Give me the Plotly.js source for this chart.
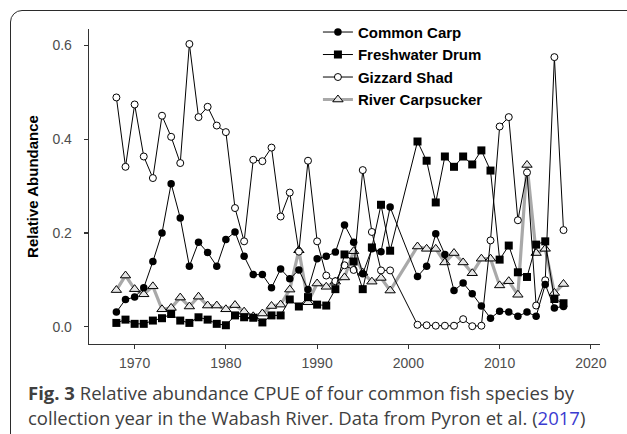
<!DOCTYPE html>
<html>
<head>
<meta charset="utf-8">
<script src="https://cdn.plot.ly/plotly-3.0.1.min.js"></script>
<style>
  html, body { margin: 0; padding: 0; background: #ffffff; }
  #wrap { position: relative; width: 627px; height: 434px; overflow: hidden; }
  #chart { position: absolute; left: 0; top: 0; width: 627px; height: 434px; }
  #frame { position: absolute; left: 10px; top: 10px; width: 640px; height: 460px;
           border: 1.6px solid #2b2b2b; border-radius: 12px; pointer-events: none; }
</style>
</head>
<body>
<div id="wrap">
  <div id="chart"></div>
  <div id="frame"></div>
</div>
<script>
// ---- data ----
const years = [1968,1969,1970,1971,1972,1973,1974,1975,1976,1977,1978,1979,1980,1981,1982,1983,1984,1985,1986,1987,1988,1989,1990,1991,1992,1993,1994,1995,1996,1997,1998,2001,2002,2003,2004,2005,2006,2007,2008,2009,2010,2011,2012,2013,2014,2015,2016,2017];

const commonCarp = [0.031,0.058,0.063,0.083,0.139,0.200,0.305,0.232,0.129,0.180,0.158,0.129,0.186,0.202,0.150,0.111,0.111,0.083,0.123,0.102,0.121,0.079,0.145,0.150,0.159,0.217,0.180,0.113,0.166,0.160,0.255,0.107,0.129,0.198,0.154,0.077,0.093,0.070,0.044,0.018,0.033,0.031,0.022,0.031,0.022,0.090,0.040,0.043];

const freshwaterDrum = [0.008,0.015,0.006,0.006,0.013,0.018,0.027,0.013,0.008,0.020,0.015,0.006,0.003,0.024,0.020,0.019,0.009,0.024,0.024,0.058,0.043,0.063,0.047,0.045,0.080,0.154,0.139,0.080,0.169,0.260,0.162,0.395,0.354,0.265,0.363,0.341,0.363,0.346,0.376,0.333,0.143,0.173,0.116,0.106,0.175,0.182,0.059,0.050];

const gizzardShad = [0.489,0.341,0.474,0.363,0.317,0.450,0.405,0.349,0.603,0.447,0.469,0.429,0.415,0.253,0.182,0.356,0.353,0.382,0.235,0.286,0.160,0.354,0.182,0.109,0.097,0.131,0.121,0.334,0.202,0.120,0.120,0.004,0.003,0.002,0.002,0.002,0.016,0.001,0.002,0.184,0.427,0.447,0.227,0.329,0.045,0.099,0.575,0.206];

const riverCarpsucker = [0.078,0.109,0.080,0.069,0.086,0.037,0.040,0.062,0.043,0.064,0.045,0.045,0.037,0.046,0.032,0.022,0.028,0.044,0.047,0.079,0.163,0.052,0.092,0.085,0.096,0.105,0.161,0.115,0.096,0.104,0.077,0.171,0.166,0.166,0.137,0.157,0.137,0.114,0.145,0.145,0.088,0.097,0.068,0.345,0.157,0.166,0.072,0.091];

const seriesNames = ["Common Carp", "Freshwater Drum", "Gizzard Shad", "River Carpsucker"];
const xTicks = [1970, 1980, 1990, 2000, 2010, 2020];
const yTicks = [0.0, 0.2, 0.4, 0.6];
const yTitle = "Relative Abundance";
const captionLine1 = "<b>Fig. 3</b> Relative abundance CPUE of four common fish species by";
const captionLine2 = "collection year in the Wabash River. Data from Pyron et al. (<span style=\"color:#3b3bd0\">2017</span>)";

// ---- traces (drawn bottom to top; legend reversed to match reference order) ----
const traces = [
  {
    x: years, y: riverCarpsucker, name: seriesNames[3], type: "scatter", mode: "lines+markers",
    line: { color: "#a9a9a9", width: 3.2 },
    marker: { symbol: "triangle-up", size: 9, color: "#e6e6e6", line: { color: "#000000", width: 1 } }
  },
  {
    x: years, y: gizzardShad, name: seriesNames[2], type: "scatter", mode: "lines+markers",
    line: { color: "#000000", width: 1 },
    marker: { symbol: "circle", size: 7, color: "#ffffff", line: { color: "#000000", width: 1 } }
  },
  {
    x: years, y: freshwaterDrum, name: seriesNames[1], type: "scatter", mode: "lines+markers",
    line: { color: "#000000", width: 1 },
    marker: { symbol: "square", size: 8, color: "#000000", line: { color: "#000000", width: 0 } }
  },
  {
    x: years, y: commonCarp, name: seriesNames[0], type: "scatter", mode: "lines+markers",
    line: { color: "#000000", width: 1 },
    marker: { symbol: "circle", size: 7.5, color: "#000000", line: { color: "#000000", width: 0 } }
  }
];

const layout = {
  width: 627, height: 434,
  margin: { l: 89, r: 27, t: 29, b: 90 },
  paper_bgcolor: "rgba(0,0,0,0)",
  plot_bgcolor: "rgba(0,0,0,0)",
  font: { family: "Liberation Sans, Arial, sans-serif", color: "#4d4d4d", size: 14 },
  showlegend: true,
  legend: {
    x: 0.448, xanchor: "left", y: 1.042, yanchor: "top",
    traceorder: "reversed",
    bgcolor: "rgba(0,0,0,0)",
    font: { family: "Liberation Sans, Arial, sans-serif", size: 15, color: "#000000", weight: "bold" }
  },
  xaxis: {
    range: [1965, 2021],
    tickmode: "array", tickvals: xTicks, ticktext: xTicks.map(String),
    showgrid: false, zeroline: false,
    showline: true, linecolor: "#333333", linewidth: 1.3,
    ticks: "outside", ticklen: 4, tickwidth: 1.2, tickcolor: "#333333",
    tickfont: { size: 14, color: "#4d4d4d" },
    ticklabelstandoff: 2
  },
  yaxis: {
    range: [-0.037, 0.635],
    tickmode: "array", tickvals: yTicks, ticktext: yTicks.map(v => v.toFixed(1)),
    showgrid: false, zeroline: false,
    showline: true, linecolor: "#333333", linewidth: 1.3,
    ticks: "outside", ticklen: 4, tickwidth: 1.2, tickcolor: "#333333",
    tickfont: { size: 14, color: "#4d4d4d" },
    ticklabelstandoff: 9,
    title: { text: "<b>" + yTitle + "</b>", font: { size: 15, color: "#000000" }, standoff: 10 }
  },
  annotations: [
    { xref: "paper", yref: "paper", x: 0, y: 0, xanchor: "left", yanchor: "middle",
      xshift: -63, yshift: -48, showarrow: false, align: "left",
      text: captionLine1, font: { family: "Open Sans, sans-serif", size: 18.5, color: "#404040" } },
    { xref: "paper", yref: "paper", x: 0, y: 0, xanchor: "left", yanchor: "middle",
      xshift: -63, yshift: -73, showarrow: false, align: "left",
      text: captionLine2, font: { family: "Open Sans, sans-serif", size: 18.5, color: "#404040" } }
  ]
};

Plotly.newPlot("chart", traces, layout, { displayModeBar: false, staticPlot: true });
</script>
</body>
</html>
